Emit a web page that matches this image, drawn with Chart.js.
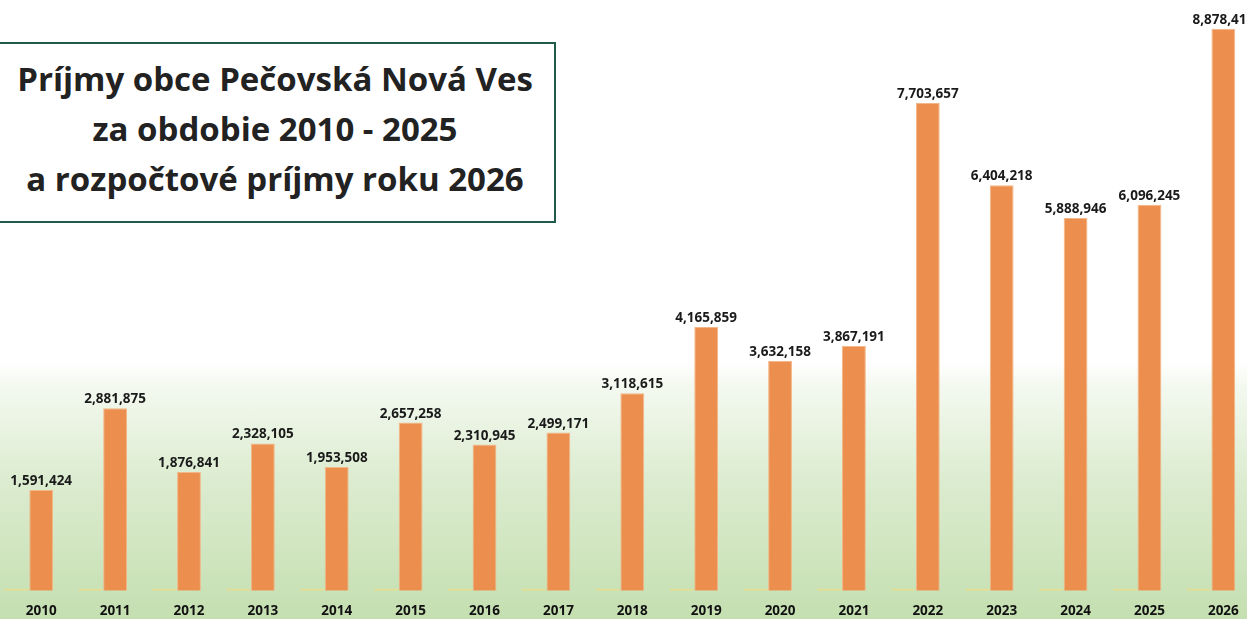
<!DOCTYPE html>
<html>
<head>
<meta charset="utf-8">
<script src="https://cdn.jsdelivr.net/npm/chart.js@4.4.0/dist/chart.umd.min.js"></script>
<style>
  html, body { margin: 0; padding: 0; }
  body {
    width: 1247px; height: 619px; overflow: hidden; position: relative;
    background: linear-gradient(to bottom, #ffffff 0px, #ffffff 362px, #f4f9f0 385px, #dcecd0 480px, #c4dfb0 619px);
    font-family: "Open Sans", sans-serif;
  }
  #wrap { position: absolute; left: -8px; top: 0; width: 1256px; height: 631px; }
  #title {
    position: absolute; left: -6px; top: 42px; width: 558px; height: 167px;
    border: 2px solid #1f5a4b; background: #fff;
    text-align: center; font-family: "Open Sans", sans-serif; font-weight: 700; font-size: 33px; line-height: 50px;
    color: #222; padding-top: 10px; box-sizing: content-box;
  }
</style>
</head>
<body>
<div id="wrap"><canvas id="chart" width="1256" height="631"></canvas></div>
<div id="title">Príjmy obce Pečovská Nová Ves<br>za obdobie 2010 - 2025<br>a rozpočtové príjmy roku 2026</div>
<script>
const years = ['2010','2011','2012','2013','2014','2015','2016','2017','2018','2019','2020','2021','2022','2023','2024','2025','2026'];
const income = [1591424, 2881875, 1876841, 2328105, 1953508, 2657258, 2310945, 2499171, 3118615, 4165859, 3632158, 3867191, 7703657, 6404218, 5888946, 6096245, 8878410];
const baseSeries = [0,0,0,0,0,0,0,0,0,0,0,0,0,0,0,0,0];

const valueLabels = {
  id: 'valueLabels',
  afterDatasetsDraw(chart) {
    const ctx = chart.ctx;
    const meta = chart.getDatasetMeta(1);
    ctx.save();
    ctx.font = 'bold 13.5px "Open Sans", sans-serif';
    ctx.fillStyle = '#1a1a1a';
    ctx.textAlign = 'center';
    ctx.textBaseline = 'bottom';
    meta.data.forEach((bar, i) => {
      ctx.fillText(income[i].toLocaleString('en-US'), bar.x, bar.y - 2);
    });
    ctx.restore();
  }
};

new Chart(document.getElementById('chart'), {
  type: 'bar',
  data: {
    labels: years,
    datasets: [{
      label: 'base',
      data: baseSeries,
      backgroundColor: '#e4df95',
      minBarLength: 2,
      barPercentage: 0.97,
      categoryPercentage: 0.665
    }, {
      label: 'Príjmy',
      data: income,
      backgroundColor: '#ec8f4e',
      borderColor: '#f3b686',
      borderWidth: 1,
      barPercentage: 0.97,
      categoryPercentage: 0.665
    }]
  },
  options: {
    responsive: false,
    animation: false,
    layout: { padding: { top: 21, bottom: 0, left: 0, right: 0 } },
    plugins: { legend: { display: false }, tooltip: { enabled: false } },
    scales: {
      x: {
        grid: { display: false, drawTicks: false },
        border: { display: false },
        ticks: {
          labelOffset: 12.3,
          padding: 12,
          color: '#111',
          font: { family: '"Open Sans", sans-serif', size: 13.5, weight: 'bold' }
        }
      },
      y: {
        display: false,
        min: 0,
        max: 9000000
      }
    }
  },
  plugins: [valueLabels]
});
</script>
</body>
</html>
